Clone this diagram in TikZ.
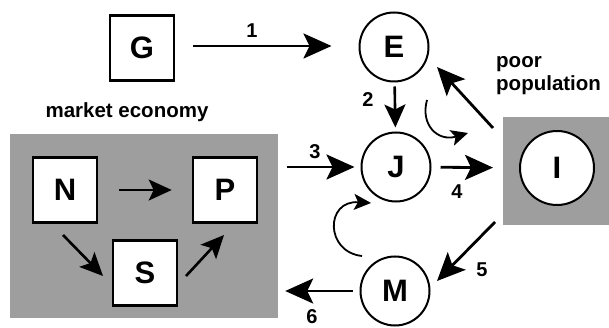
\documentclass[tikz,border=0pt]{standalone}
\usepackage{fontspec}
\setmainfont{Liberation Sans}
\usetikzlibrary{arrows.meta}
\tikzset{
  box/.style={draw, line width=2.6pt, fill=white, minimum width=64pt, minimum height=65pt, inner sep=0pt, font=\fontsize{31}{31}\bfseries\selectfont},
  circ/.style={draw, circle, line width=2pt, fill=white, minimum size=69pt, inner sep=0pt, font=\fontsize{31}{31}\bfseries\selectfont},
  shade/.style={fill=black!38, draw=none},
  arr/.style={line width=2.8pt, -{Stealth[length=28pt, width=25pt, inset=6pt]}},
  sarr/.style={line width=2.6pt, -{Stealth[length=23pt, width=21pt, inset=5pt]}},
  carr/.style={line width=1.8pt, -{Stealth[length=17pt, width=16pt, inset=4pt]}},
  num/.style={font=\fontsize{20}{20}\bfseries\selectfont, inner sep=0pt},
  lbl/.style={font=\fontsize{20.5}{23}\bfseries\selectfont, inner sep=0pt}
}
\begin{document}
\begin{tikzpicture}[x=1pt, y=-1pt]
\useasboundingbox (0,0) rectangle (609,328);
% shaded areas
\node[shade, minimum width=268pt, minimum height=184pt, inner sep=0pt] (market) at (144,226) {};
\node[shade, minimum width=106pt, minimum height=108pt, inner sep=0pt] (ibox) at (556,171) {};
% nodes
\node[box] (G) at (142,48) {G};
\node[box] (N) at (65,190) {N};
\node[box] (P) at (225,190) {P};
\node[box] (S) at (145,273) {S};
\node[circ] (E) at (394,47) {E};
\node[circ] (J) at (396,167) {J};
\node[circ] (M) at (395,291) {M};
\node[circ, minimum size=74pt] (I) at (557,168) {I};
% texts
\node[lbl] (mkt) at (127,112) {market economy};
\node[lbl, anchor=north west, align=left] (poor) at (496,56) {poor\\population};
% arrows
\draw[arr, shorten <=18pt, shorten >=27pt] (G.east |- 0,46) -- (E.west |- 0,46);
\draw[sarr, shorten <=4pt, shorten >=4pt] (E) -- (J);
\draw[arr, shorten <=9pt, shorten >=6pt] (market.east |- J) -- (J.west);
\draw[arr, shorten <=9pt, shorten >=26pt] (J) -- (I);
\coordinate (ie1) at (493,128);
\coordinate (ie2) at (437,67);
\draw[arr] (ie1) -- (ie2);
\coordinate (im1) at (495,222);
\coordinate (im2) at (437,281);
\draw[arr] (im1) -- (im2);
\draw[arr, shorten <=7pt, shorten >=7pt] (M.west) -- (market.east |- M.west);
\draw[sarr, shorten <=21pt, shorten >=20pt] (N.east) -- (P.west);
\coordinate (ns1) at (63,235);
\coordinate (ns2) at (103,276);
\draw[sarr] (ns1) -- (ns2);
\coordinate (sp1) at (186,276);
\coordinate (sp2) at (224,235);
\draw[sarr] (sp1) -- (sp2);
% curved arrows
\coordinate (c1a) at (427,100);
\coordinate (c1b) at (468,133);
\draw[carr] (c1a) .. controls (420,125) and (438,142) .. (c1b);
\coordinate (c2a) at (362,256);
\coordinate (c2b) at (371,203);
\draw[carr] (c2a) .. controls (325,252) and (325,200) .. (c2b);
% numbers
\node[num] (n1) at (252,31) {1};
\node[num] (n2) at (368,100) {2};
\node[num] (n3) at (315,152) {3};
\node[num] (n4) at (457,192) {4};
\node[num] (n5) at (482,270) {5};
\node[num] (n6) at (312,317) {6};
\end{tikzpicture}
\end{document}
